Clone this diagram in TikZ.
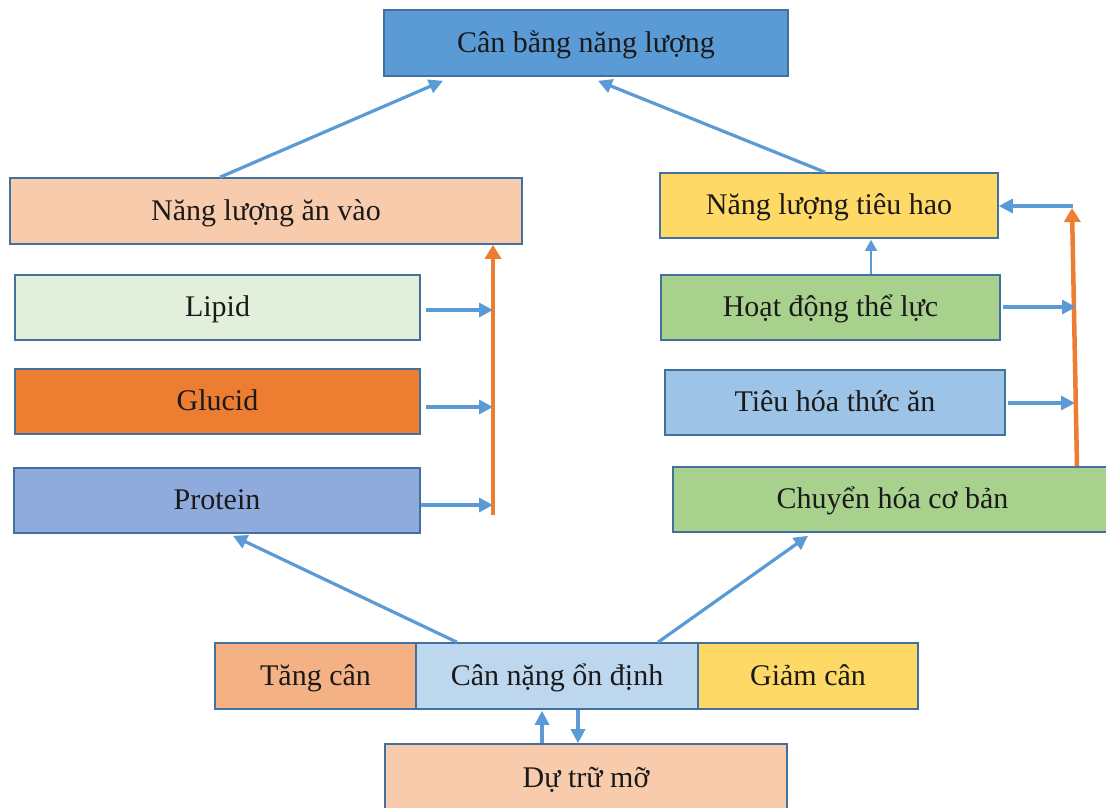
\documentclass[tikz,border=0pt]{standalone}
\usepackage{fontspec}
\setmainfont{Liberation Serif}
\usetikzlibrary{arrows.meta}
\definecolor{bordc}{HTML}{41719C}
\definecolor{arrc}{HTML}{5B9BD5}
\definecolor{orc}{HTML}{ED7D31}
\definecolor{cTop}{HTML}{5B9BD5}
\definecolor{cPeach}{HTML}{F8CBAD}
\definecolor{cLipid}{HTML}{E2EFDA}
\definecolor{cGlucid}{HTML}{ED7D31}
\definecolor{cProt}{HTML}{8FAADC}
\definecolor{cYel}{HTML}{FFD966}
\definecolor{cGreen}{HTML}{A9D18E}
\definecolor{cTieu}{HTML}{9DC3E6}
\definecolor{cTang}{HTML}{F4B183}
\definecolor{cOnd}{HTML}{BDD7EE}
\definecolor{txt}{HTML}{1A1A1A}
\tikzset{
  box/.style={draw=bordc, line width=1.6pt, inner sep=0pt, text=txt,
    text height=22pt, text depth=4pt,
    font=\fontsize{30}{36}\selectfont},
  arr/.style={draw=arrc, line width=3.2pt, -{Triangle[length=14pt,width=14pt]}},
  thinarr/.style={draw=arrc, line width=1.2pt, -{Triangle[length=11pt,width=12pt]}},
  orarr/.style={draw=orc, line width=4.5pt, -{Triangle[length=14pt,width=16pt]}},
}
\begin{document}
\begin{tikzpicture}[x=1pt,y=-1pt]
\useasboundingbox (0,0) rectangle (1106,807);
\clip (0,0) rectangle (1106,807);
\fill[white] (0,0) rectangle (1106,807);
% nodes
\node[box, fill=cTop, minimum width=404pt, minimum height=66pt] (top) at (586,43) {Cân bằng năng lượng};
\node[box, fill=cPeach, minimum width=512pt, minimum height=66pt] (nlav) at (266,211) {Năng lượng ăn vào};
\node[box, fill=cLipid, minimum width=405pt, minimum height=65pt] (lipid) at (217.5,307.5) {Lipid};
\node[box, fill=cGlucid, minimum width=405pt, minimum height=65pt] (glucid) at (217.5,401.5) {Glucid};
\node[box, fill=cProt, minimum width=406pt, minimum height=65pt] (protein) at (217,500.5) {Protein};
\node[box, fill=cYel, minimum width=338pt, minimum height=65pt] (nlth) at (829,205.5) {Năng lượng tiêu hao};
\node[box, fill=cGreen, minimum width=339pt, minimum height=65pt] (hdtl) at (830.5,307.5) {Hoạt động thể lực};
\node[box, fill=cTieu, minimum width=340pt, minimum height=65pt] (thta) at (835,402.5) {Tiêu hóa thức ăn};
\node[box, fill=cGreen, minimum width=439pt, minimum height=65pt] (chcb) at (892.5,499.5) {Chuyển hóa cơ bản};
\node[box, fill=cTang, minimum width=201pt, minimum height=66pt] (tang) at (315.5,676) {Tăng cân};
\node[box, fill=cOnd, minimum width=282pt, minimum height=66pt] (cnod) at (557,676) {Cân nặng ổn định};
\node[box, fill=cYel, minimum width=220pt, minimum height=66pt] (giam) at (808,676) {Giảm cân};
\node[box, fill=cPeach, minimum width=402pt, minimum height=68pt] (dtm) at (586,778) {Dự trữ mỡ};
% top arrows
\draw[arr] ([xshift=-46pt]nlav.north) -- ([xshift=-143pt,yshift=-4pt]top.south);
\draw[arr] ([xshift=-4pt]nlth.north) -- ([xshift=12pt,yshift=-4pt]top.south);
% left orange collector
\coordinate (ob) at (493,515);
\draw[orarr] (ob) -- (ob |- nlav.south);
\coordinate (lh) at (493,310);
\coordinate (gh) at (493,407);
\coordinate (ph) at (493,505);
\draw[arr] ([xshift=5pt]lipid.east |- lh) -- (lh);
\draw[arr] ([xshift=5pt]glucid.east |- gh) -- (gh);
\draw[arr] (protein.east |- ph) -- (ph);
% right orange collector
\coordinate (ot) at (1072,208);
\draw[orarr] ([xshift=184.5pt]chcb.north) -- (ot);
\draw[arr] ([xshift=1pt,yshift=2pt]ot) -- (nlth.east |- 0,206);
\coordinate (hh) at (1076,307);
\coordinate (th) at (1075,403);
\draw[arr] ([xshift=2pt]hdtl.east |- hh) -- (hh);
\draw[arr] ([xshift=2pt]thta.east |- th) -- (th);
\draw[thinarr] ([xshift=40.5pt]hdtl.north) -- ([xshift=42pt,yshift=-1pt]nlth.south);
% bottom arrows
\draw[arr] ([xshift=-100pt]cnod.north) -- ([xshift=16pt,yshift=-2pt]protein.south);
\draw[arr] ([xshift=101pt]cnod.north) -- ([xshift=-84.5pt,yshift=-3pt]chcb.south);
\draw[arr] ([xshift=-44pt]dtm.north) -- ([xshift=-15pt,yshift=-1pt]cnod.south);
\draw[arr] ([xshift=21pt]cnod.south) -- ([xshift=-8pt]dtm.north);
\end{tikzpicture}
\end{document}
